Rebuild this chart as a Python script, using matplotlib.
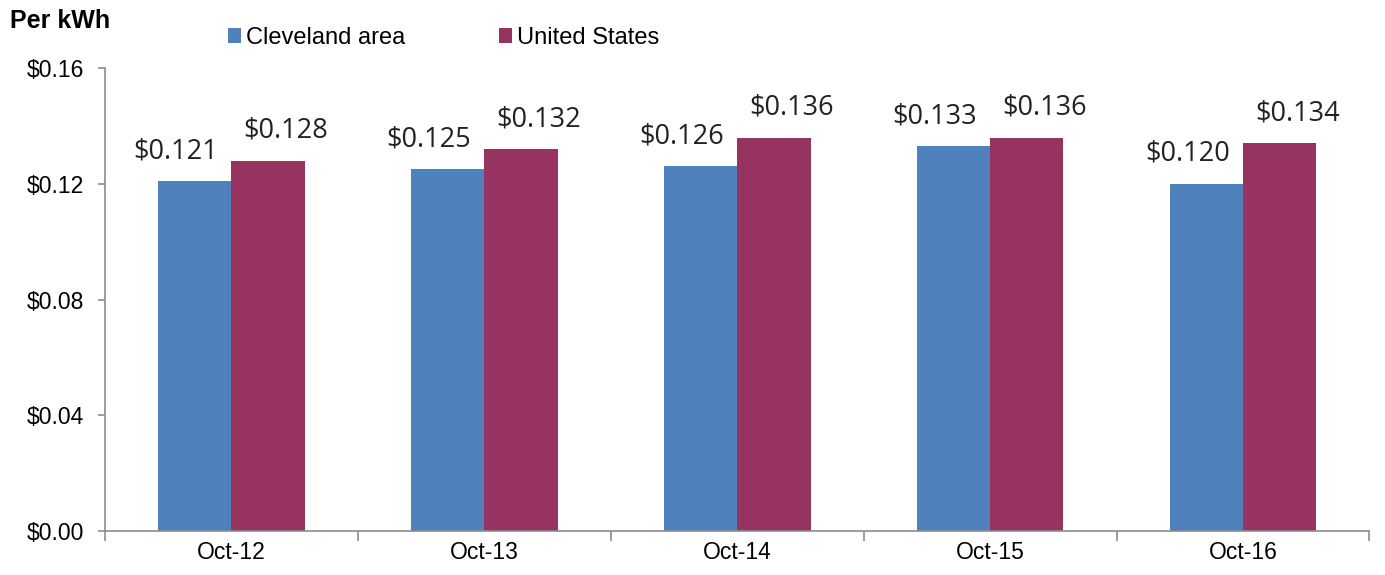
import numpy as np
import matplotlib.pyplot as plt

# data
months = ['Oct-12', 'Oct-13', 'Oct-14', 'Oct-15', 'Oct-16']
cleveland = [0.121, 0.125, 0.126, 0.133, 0.120]
us = [0.128, 0.132, 0.136, 0.136, 0.134]
yticks = [0.00, 0.04, 0.08, 0.12, 0.16]

blue = '#4F81BD'
maroon = '#973360'
grey = '#8C8C8C'

plt.rcParams['font.family'] = ['Liberation Sans', 'DejaVu Sans']

fig = plt.figure(figsize=(13.85, 5.75), dpi=100)
ax = fig.add_axes([0.0758, 0.0765, 0.913, 0.805])

x = np.arange(len(months))
w = 0.29
b1 = ax.bar(x - w / 2, cleveland, w, color=blue, label='Cleveland area')
b2 = ax.bar(x + w / 2, us, w, color=maroon, label='United States')

# labels pushed a bit outward, like the excel original
for bars, vals, dx in ((b1, cleveland, -0.075), (b2, us, 0.07)):
    for r, v in zip(bars, vals):
        ax.text(r.get_x() + r.get_width() / 2 + dx, v + 0.0055, f'${v:.3f}',
                ha='center', va='bottom', fontsize=19.5, family='Open Sans',
                color='#222222')

ax.set_xlim(-0.5, len(months) - 0.5)
ax.set_ylim(0, 0.16)
ax.set_yticks(yticks)
ax.set_yticklabels([f'${t:.2f}' for t in yticks], fontsize=16.5)
ax.set_xticks(x)
ax.set_xticklabels(months, fontsize=16.5)
ax.tick_params(axis='x', length=0, pad=7)
ax.set_xticks(np.arange(-0.5, len(months)), minor=True)
ax.tick_params(axis='x', which='minor', length=7, color=grey, width=1.2)
ax.tick_params(axis='y', length=5, color=grey, width=1.2, pad=10)

for s in ('top', 'right'):
    ax.spines[s].set_visible(False)
for s in ('left', 'bottom'):
    ax.spines[s].set_color(grey)
    ax.spines[s].set_linewidth(1.2)

fig.text(0.007, 0.963, 'Per kWh', fontsize=18, fontweight='bold', va='center')
fig.legend(loc='center left', bbox_to_anchor=(0.1646, 0.934), ncol=2,
           frameon=False, fontsize=17, handlelength=0.55, handleheight=0.55,
           handletextpad=0.2, columnspacing=4.0, borderpad=0, borderaxespad=0)

fig.savefig('out.png', dpi=100)
